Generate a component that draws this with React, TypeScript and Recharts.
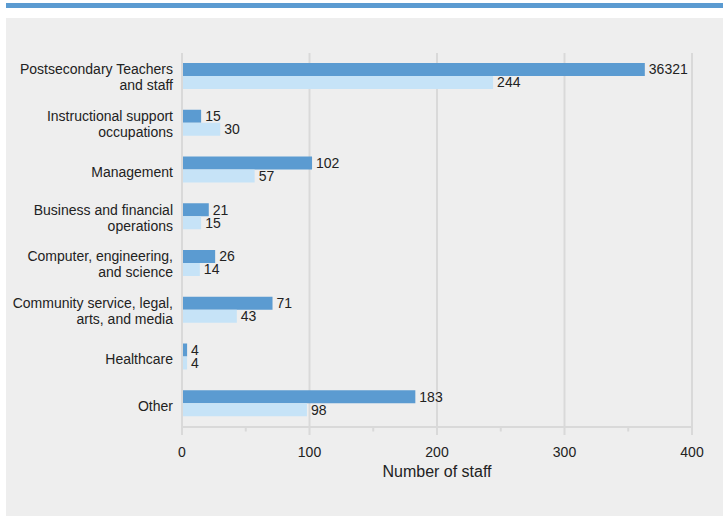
import React from "react";
import { BarChart, Bar, XAxis, YAxis, CartesianGrid, LabelList } from "recharts";

const categories = [
  "Postsecondary Teachers\nand staff",
  "Instructional support\noccupations",
  "Management",
  "Business and financial\noperations",
  "Computer, engineering,\nand science",
  "Community service, legal,\narts, and media",
  "Healthcare",
  "Other",
];
const seriesA = [363, 15, 102, 21, 26, 71, 4, 183];
const seriesALabels = ["36321", "15", "102", "21", "26", "71", "4", "183"];
const seriesB = [244, 30, 57, 15, 14, 43, 4, 98];
const seriesBLabels = ["244", "30", "57", "15", "14", "43", "4", "98"];
const xTicks = [0, 50, 100, 150, 200, 250, 300, 350, 400];
const xGrid = [0, 100, 200, 300, 400];

const data = categories.map((name, i) => ({
  name,
  a: seriesA[i],
  aLabel: seriesALabels[i],
  b: seriesB[i],
  bLabel: seriesBLabels[i],
}));

const DARK = "#5b9bd1";
const LIGHT = "#c6e3f7";
const GRID = "#d9d9d9";
const TEXT = "#222222";

const YTick = (props: any) => {
  const { x, y, payload } = props;
  const lines = String(payload.value).split("\n");
  const starts = lines.length === 1 ? [7.5] : [-2, 14];
  return (
    <text x={x} y={y} textAnchor="end" fontSize={14} fill={TEXT}>
      {lines.map((l, i) => (
        <tspan key={i} x={x} y={y + starts[i]}>
          {l}
        </tspan>
      ))}
    </text>
  );
};

const XTick = (props: any) => {
  const { x, y, payload } = props;
  const major = payload.value % 100 === 0;
  return (
    <g>
      <line x1={x} x2={x} y1={y} y2={y + (major ? 8 : 4.5)} stroke={GRID} strokeWidth={2} />
      {major && (
        <text x={x} y={y + 30} textAnchor="middle" fontSize={14} fill={TEXT}>
          {payload.value}
        </text>
      )}
    </g>
  );
};

export default function App() {
  return (
    <div
      style={{
        position: "absolute",
        left: 0,
        top: 0,
        width: 723,
        height: 516,
        background: "#ffffff",
        fontFamily: "Arial, 'Liberation Sans', sans-serif",
      }}
    >
      <div style={{ position: "absolute", left: 6, top: 3, width: 717, height: 5, background: DARK }} />
      <div style={{ position: "absolute", left: 6, top: 18, width: 717, height: 498, background: "#eeeeee" }} />
      <div style={{ position: "absolute", left: 0, top: 0 }}>
        <BarChart
          width={723}
          height={516}
          data={data}
          layout="vertical"
          margin={{ top: 53, right: 31, bottom: 29, left: 12 }}
          barGap={0}
          barSize={13}
        >
          <CartesianGrid horizontal={false} vertical={true} verticalValues={xGrid} stroke={GRID} strokeWidth={2} />
          <XAxis
            type="number"
            domain={[0, 400]}
            ticks={xTicks}
            interval={0}
            tickSize={0}
            tickMargin={0}
            tickLine={false}
            tick={<XTick />}
            axisLine={{ stroke: GRID, strokeWidth: 2 }}
            height={60}
            label={{ value: "Number of staff", position: "insideBottom", offset: 10, fontSize: 16, fill: TEXT }}
          />
          <XAxis
            xAxisId="top"
            orientation="top"
            type="number"
            domain={[0, 400]}
            height={0}
            tick={false}
            tickLine={false}
            axisLine={{ stroke: GRID, strokeWidth: 2 }}
          />
          <YAxis
            type="category"
            dataKey="name"
            width={170}
            tickSize={0}
            tickMargin={9}
            tickLine={false}
            interval={0}
            tick={<YTick />}
            axisLine={{ stroke: GRID, strokeWidth: 2 }}
          />
          <Bar dataKey="a" fill={DARK} isAnimationActive={false}>
            <LabelList dataKey="aLabel" position="right" offset={4} fontSize={14} fill={TEXT} />
          </Bar>
          <Bar dataKey="b" fill={LIGHT} isAnimationActive={false}>
            <LabelList dataKey="bLabel" position="right" offset={4} fontSize={14} fill={TEXT} />
          </Bar>
        </BarChart>
      </div>
    </div>
  );
}
